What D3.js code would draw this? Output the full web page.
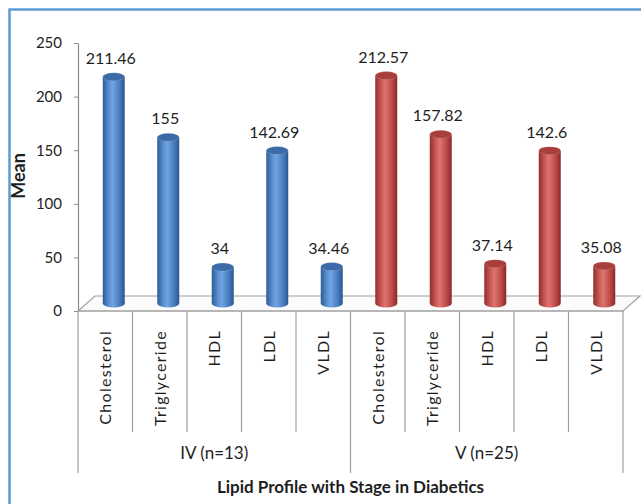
<!DOCTYPE html>
<html>
<head>
<meta charset="utf-8">
<script src="https://cdn.jsdelivr.net/npm/d3@7"></script>
<style>
  body { margin: 0; background: #fff; }
  text { font-family: Lato, "Open Sans", sans-serif; fill: #1e1e1e; }
</style>
</head>
<body>
<div id="chart"></div>
<script>
// Chart values
const groups = ["IV (n=13)", "V (n=25)"]
const lipids = ["Cholesterol", "Triglyceride", "HDL", "LDL", "VLDL"]
const stageIV = [211.46, 155, 34, 142.69, 34.46]
const stageV = [212.57, 157.82, 37.14, 142.6, 35.08]
const yTicks = [0, 50, 100, 150, 200, 250]
const seriesValues = [stageIV, stageV]

const width = 641
const height = 504
const margin = { top: 43, left: 78, right: 18, bottom: 193 }
const depth = { x: 17, y: 15 } // 3D floor offset

const svg = d3
  .select("#chart")
  .append("svg")
  .attr("width", width)
  .attr("height", height)

// Outer frame (only top and left visible)
svg
  .append("rect")
  .attr("x", 9.5)
  .attr("y", 9.5)
  .attr("width", 700)
  .attr("height", 600)
  .attr("fill", "none")
  .attr("stroke", "#5b9bd5")
  .attr("stroke-width", 2.5)

const x0 = d3
  .scaleBand()
  .domain(groups)
  .range([margin.left, width - margin.right])
const x1 = d3.scaleBand().domain(lipids).range([0, x0.bandwidth()])

const y = d3
  .scaleLinear()
  .domain([0, 250])
  .range([height - margin.bottom, margin.top])

const y0 = y(0)
const xL = margin.left
const xR = width - margin.right

// Gradients for the cylinders
const defs = svg.append("defs")
const palettes = [
  { id: "blue", stops: ["#2d5d96", "#5d92d4", "#6fa3e3", "#4b7fc0", "#2a5690"], top: "#3b6aa6" },
  { id: "red", stops: ["#8f2f2d", "#cf5c59", "#de7471", "#bf4c49", "#88292a"], top: "#a83f3c" }
]
palettes.forEach((p) => {
  const g = defs
    .append("linearGradient")
    .attr("id", "body-" + p.id)
    .attr("x1", "0%")
    .attr("x2", "100%")
  const offs = [0, 0.3, 0.45, 0.75, 1]
  p.stops.forEach((c, i) =>
    g.append("stop").attr("offset", offs[i]).attr("stop-color", c)
  )
})

// Floor
svg
  .append("path")
  .attr(
    "d",
    `M${xL},${y0} L${xL + depth.x},${y0 - depth.y} L${xR + depth.x},${y0 - depth.y} L${xR},${y0} Z`
  )
  .attr("fill", "#fbfbfb")
  .attr("stroke", "#a0a0a0")
  .attr("stroke-width", 1.2)

// Y axis
const yAxis = svg
  .append("g")
  .attr("transform", `translate(${xL},0)`)
  .call(d3.axisLeft(y).tickValues(yTicks).tickSize(4).tickSizeOuter(0).tickPadding(12))
yAxis.select(".domain").attr("stroke", "#8c8c8c").attr("stroke-width", 1.2)
yAxis.selectAll(".tick line").attr("stroke", "#8c8c8c")
yAxis
  .selectAll(".tick text")
  .style("font-size", "15px")
  .style("font-family", "Lato, sans-serif")
  .attr("fill", "#1e1e1e")

// Y title
svg
  .append("text")
  .attr("transform", `translate(25,176) rotate(-90)`)
  .attr("text-anchor", "middle")
  .style("font-size", "18px")
  .style("font-weight", "bold")
  .text("Mean")

// Bars (cylinders)
const rx = 11
const ry = 4
const bars = svg.append("g")
groups.forEach((grp, gi) => {
  const pal = palettes[gi]
  lipids.forEach((lp, li) => {
    const v = seriesValues[gi][li]
    const cx = x0(grp) + x1(lp) + x1.bandwidth() / 2 + depth.x / 2
    const yTop = y(v) - depth.y / 2
    const yBot = y0 - depth.y / 2
    bars
      .append("path")
      .attr(
        "d",
        `M${cx - rx},${yTop} L${cx - rx},${yBot} A${rx},${ry} 0 0 0 ${cx + rx},${yBot} L${cx + rx},${yTop} Z`
      )
      .attr("fill", `url(#body-${pal.id})`)
    bars
      .append("ellipse")
      .attr("cx", cx)
      .attr("cy", yTop)
      .attr("rx", rx)
      .attr("ry", ry)
      .attr("fill", pal.top)
      .attr("stroke", "#ffffff")
      .attr("stroke-opacity", 0.25)
      .attr("stroke-width", 0.6)
    svg
      .append("text")
      .attr("x", cx - 3)
      .attr("y", yTop - 13)
      .attr("text-anchor", "middle")
      .style("font-size", "16px")
      .text(v)
  })
})

// Category axis: dividers and labels
const axisG = svg.append("g")
groups.forEach((grp, gi) => {
  lipids.forEach((lp, li) => {
    const xs = x0(grp) + x1(lp)
    const isEdge = li === 0
    axisG
      .append("line")
      .attr("x1", xs)
      .attr("x2", xs)
      .attr("y1", y0)
      .attr("y2", isEdge ? 473 : 432)
      .attr("stroke", "#a0a0a0")
      .attr("stroke-width", 1.2)
    axisG
      .append("text")
      .attr(
        "transform",
        `translate(${xs + x1.bandwidth() / 2 + 6},330) rotate(-90)`
      )
      .attr("text-anchor", "end")
      .style("font-size", "16px")
      .style("letter-spacing", "1.3px")
      .text(lp)
  })
  axisG
    .append("text")
    .attr("x", x0(grp) + x0.bandwidth() / 2)
    .attr("y", 459)
    .attr("text-anchor", "middle")
    .style("font-size", "17px")
    .text(grp)
})
axisG
  .append("line")
  .attr("x1", xR)
  .attr("x2", xR)
  .attr("y1", y0)
  .attr("y2", 473)
  .attr("stroke", "#a0a0a0")
  .attr("stroke-width", 1.2)
axisG
  .append("line")
  .attr("x1", xL)
  .attr("x2", xR)
  .attr("y1", y0)
  .attr("y2", y0)
  .attr("stroke", "#a0a0a0")
  .attr("stroke-width", 1.2)

// X title
svg
  .append("text")
  .attr("x", (xL + xR) / 2)
  .attr("y", 493)
  .attr("text-anchor", "middle")
  .style("font-size", "17px")
  .style("font-weight", "bold")
  .text("Lipid Profile with Stage in Diabetics")
</script>
</body>
</html>
